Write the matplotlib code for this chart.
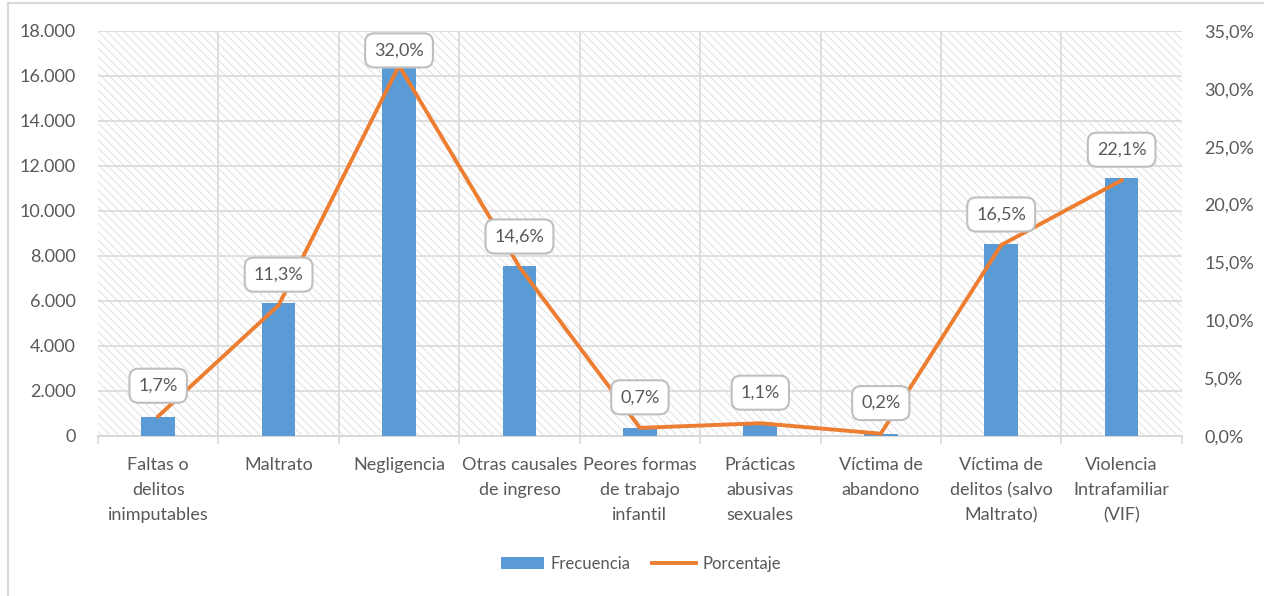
import numpy as np
import matplotlib.pyplot as plt
from matplotlib.patches import Rectangle
from matplotlib.lines import Line2D
from matplotlib.ticker import FuncFormatter, MultipleLocator

categorias = [
    "Faltas o\ndelitos\ninimputables",
    "Maltrato",
    "Negligencia",
    "Otras causales\nde ingreso",
    "Peores formas\nde trabajo\ninfantil",
    "Prácticas\nabusivas\nsexuales",
    "Víctima de\nabandono",
    "Víctima de\ndelitos (salvo\nMaltrato)",
    "Violencia\nIntrafamiliar\n(VIF)",
]
frecuencia = [850, 5900, 16600, 7550, 340, 560, 90, 8550, 11480]
porcentaje = [1.7, 11.3, 32.0, 14.6, 0.7, 1.1, 0.2, 16.5, 22.1]

azul = "#5b9bd5"
naranja = "#ed7d31"
gris_txt = "#595959"
gris_lin = "#d9d9d9"

plt.rcParams["font.family"] = ["Lato", "DejaVu Sans"]
plt.rcParams["hatch.linewidth"] = 0.6

fig = plt.figure(figsize=(12.64, 5.96), dpi=100)
ax = fig.add_axes([0.0775, 0.2685, 0.8575, 0.6795])
ax2 = ax.twinx()

x = np.arange(len(categorias))

# fondo rayado
ax.add_patch(Rectangle((0, 0), 1, 1, transform=ax.transAxes, facecolor="white",
                       edgecolor="#dcdcdc", hatch="\\\\\\\\", lw=0, zorder=0))

ax.bar(x, frecuencia, width=0.28, color=azul, zorder=3, label="Frecuencia")
ax.set_xlim(-0.5, len(categorias) - 0.5)
ax.set_ylim(0, 18000)
ax.yaxis.set_major_locator(MultipleLocator(2000))
ax.yaxis.set_major_formatter(FuncFormatter(lambda v, p: f"{int(v):,}".replace(",", ".")))

# rejilla
for yv in range(2000, 18001, 2000):
    ax.axhline(yv, color=gris_lin, lw=1.2, zorder=1)
for xv in np.arange(0.5, len(categorias) - 0.5, 1):
    ax.axvline(xv, color=gris_lin, lw=1.2, zorder=1)
ax.set_xticks(np.arange(-0.5, len(categorias), 1), minor=False)
ax.set_xticklabels([])
ax.set_xticks(x, minor=True)
ax.set_xticklabels(categorias, minor=True, fontsize=13, color=gris_txt, linespacing=1.7)
ax.tick_params(axis="x", which="major", length=6, color=gris_lin, width=1.2)
ax.tick_params(axis="x", which="minor", length=0, pad=15)
ax.tick_params(axis="y", length=0, labelsize=13, labelcolor=gris_txt, pad=16)

for s in ["top", "right", "left"]:
    ax.spines[s].set_visible(False)
    ax2.spines[s].set_visible(False)
ax.spines["bottom"].set_color(gris_lin)
ax.spines["bottom"].set_linewidth(1.5)
ax2.spines["bottom"].set_visible(False)

ax2.plot(x, porcentaje, color=naranja, lw=2.8, zorder=4, label="Porcentaje",
         solid_joinstyle="miter")
ax2.set_ylim(0, 35)
ax2.yaxis.set_major_locator(MultipleLocator(5))
ax2.yaxis.set_major_formatter(FuncFormatter(lambda v, p: f"{v:.1f}%".replace(".", ",")))
ax2.tick_params(axis="y", length=0, labelsize=13, labelcolor=gris_txt, pad=16)

for xi, p in zip(x, porcentaje):
    yoff = 22 if p < 30 else 11
    ax2.annotate(f"{p:.1f}%".replace(".", ","), (xi, p), xytext=(0, yoff),
                 textcoords="offset points", ha="center", va="center",
                 fontsize=13, color=gris_txt, zorder=6,
                 bbox=dict(boxstyle="round,pad=0.5,rounding_size=0.5",
                           fc="white", ec="#bfbfbf", lw=1.5))

h1, l1 = ax.get_legend_handles_labels()
h2, l2 = ax2.get_legend_handles_labels()
fig.legend(h1 + h2, l1 + l2, loc="center", bbox_to_anchor=(0.507, 0.054), ncol=2,
           frameon=False, fontsize=12, labelcolor=gris_txt, handlelength=2.6,
           columnspacing=1.3, handletextpad=0.4)

# marco del gráfico
fig.add_artist(Line2D([0.0065, 0.0065], [0, 0.995], transform=fig.transFigure, color=gris_lin, lw=1.5))
fig.add_artist(Line2D([0.0065, 1], [0.995, 0.995], transform=fig.transFigure, color=gris_lin, lw=1.5))

fig.savefig("out.png", dpi=100)
